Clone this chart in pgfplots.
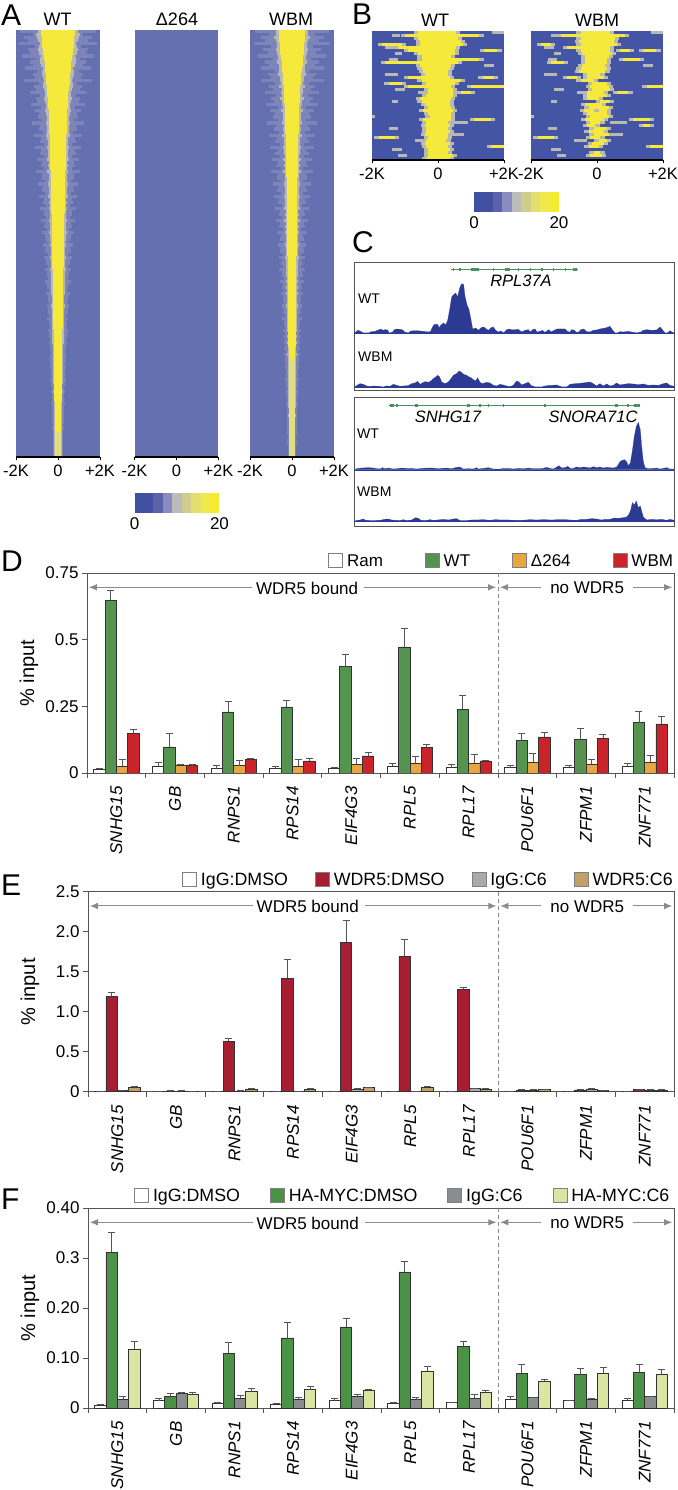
\documentclass[border=0pt]{standalone}
\usepackage{fontspec}
\setmainfont{Liberation Sans}
\usepackage{pgfplots}
\usepackage{pgfplotstable}
\pgfplotsset{compat=1.18}
\usetikzlibrary{arrows.meta}

\definecolor{bgA}{HTML}{6470B0}
\definecolor{bgB}{HTML}{4555A5}
\definecolor{yel}{HTML}{F5EA3C}
\definecolor{halo}{HTML}{B9B9B2}
\definecolor{glow}{HTML}{7C84BA}
\definecolor{pale}{HTML}{E2DD80}
\definecolor{navy}{HTML}{2B3A92}
\definecolor{gene}{HTML}{4A9060}
\definecolor{cgreen}{HTML}{559350}
\definecolor{corange}{HTML}{E8A63F}
\definecolor{cred}{HTML}{CC2229}
\definecolor{cdred}{HTML}{A71E32}
\definecolor{cgrey}{HTML}{A8AAAD}
\definecolor{ctan}{HTML}{C2A168}
\definecolor{fgreen}{HTML}{4B9148}
\definecolor{fgrey}{HTML}{8A8C8E}
\definecolor{flime}{HTML}{DBE5A3}
\definecolor{edge}{HTML}{333333}
\definecolor{axc}{HTML}{555555}
\definecolor{arrc}{HTML}{8A8A8A}

\newcommand\fs[1]{\fontsize{#1}{#1}\selectfont}
\newcommand\lbl[4][]{\node[inner sep=0pt,anchor=base,#1] at (#2pt,{1490pt-#3pt}) {#4};}

% panel A: half widths of the three colour layers, row by row from the top
\pgfplotstableread{
y core halo glow
0 .82 1.05 1.8
1 .78 1.25 1.6
2 .74 .95 1.85
3 .72 1.15 1.45
4 .68 .9 1.7
5 .64 1.05 1.35
6 .62 .85 1.55
7 .58 .95 1.2
8 .56 .8 1.6
9 .52 .9 1.15
10 .50 .75 1.35
11 .48 .85 1.05
12 .46 .7 1.3
13 .45 .8 1.1
14 .43 .65 .95
15 .42 .75 1.25
16 .41 .62 .9
17 .40 .72 1.15
18 .39 .6 .85
19 .38 .7 1.1
20 .37 .58 .85
21 .36 .68 1.0
22 .36 .56 .8
23 .35 .65 1.05
24 .34 .55 .78
25 .34 .62 .95
26 .33 .52 .75
27 .32 .6 .9
28 .32 .5 .7
29 .31 .58 .85
30 .30 .48 .68
31 .30 .55 .8
32 .29 .46 .65
33 .29 .52 .75
34 .28 .45 .62
35 .28 .5 .72
36 .27 .43 .6
37 .27 .48 .68
38 .27 .42 .56
39 .26 .46 .64
40 .26 .4 .54
41 .25 .44 .6
42 .25 .38 .5
43 .24 .42 .56
44 .24 .36 .48
45 .23 .4 .52
46 .23 .34 .46
47 .22 .38 .5
48 .22 .33 .44
49 .21 .36 .46
50 .21 .32 .42
51 .20 .34 .44
52 .20 .3 .4
53 .19 .32 .4
54 .19 .28 .36
55 .18 .3 .38
56 .18 .27 .34
57 .18 .28 .36
58 .17 .25 .32
59 .17 .26 .33
60 .17 .24 .3
61 .16 .25 .31
62 .16 .23 .28
63 .16 .24 .29
64 .15 .22 .27
65 .15 .22 .28
66 .15 .21 .25
67 .14 .21 .26
68 .14 .2 .24
69 .14 .2 .24
}\heatWT
\pgfplotstableread{
y core halo glow
0 .62 .95 1.75
1 .6 1.1 1.5
2 .58 .85 1.8
3 .56 1.0 1.4
4 .53 .8 1.6
5 .5 .95 1.3
6 .48 .72 1.5
7 .45 .85 1.15
8 .43 .7 1.5
9 .4 .8 1.1
10 .38 .65 1.3
11 .37 .75 1.0
12 .35 .6 1.25
13 .34 .7 1.05
14 .33 .56 .9
15 .32 .66 1.2
16 .31 .52 .85
17 .3 .62 1.1
18 .29 .5 .8
19 .29 .6 1.05
20 .28 .48 .8
21 .28 .58 .95
22 .27 .46 .75
23 .27 .56 1.0
24 .26 .45 .72
25 .26 .54 .9
26 .25 .44 .7
27 .25 .52 .85
28 .25 .42 .66
29 .24 .5 .8
30 .24 .4 .62
31 .24 .48 .75
32 .23 .39 .6
33 .23 .45 .7
34 .22 .38 .58
35 .22 .44 .68
36 .22 .37 .56
37 .21 .42 .64
38 .21 .36 .52
39 .21 .4 .6
40 .2 .35 .5
41 .2 .38 .56
42 .2 .33 .46
43 .19 .36 .52
44 .19 .32 .44
45 .19 .34 .48
46 .18 .3 .42
47 .18 .32 .46
48 .18 .29 .4
49 .17 .3 .42
50 .17 .28 .38
51 .17 .29 .4
52 .16 .26 .36
53 .16 .27 .36
54 .16 .25 .32
55 .15 .26 .34
56 .15 .24 .3
57 .15 .25 .32
58 .14 .22 .28
59 .14 .23 .29
60 .14 .21 .26
61 .14 .22 .27
62 .13 .2 .25
63 .13 .21 .25
64 .13 .19 .23
65 .13 .2 .24
66 .12 .18 .22
67 .12 .19 .22
68 .12 .18 .21
69 .12 .18 .21
}\heatWBM
\pgfplotstableread{
y core
66 .15
67 .14
68 .14
69 .14
}\paleWT
\pgfplotstableread{
y core
54 .16
55 .15
56 .15
57 .15
58 .14
59 .14
60 .14
61 .14
62 .13
63 .13
64 .13
65 .13
66 .12
67 .12
68 .12
69 .12
}\paleWBM

% panel B: yellow runs of each row, in kb from the centre
\pgfplotstableread{
y l r
0 -.6 .55
1 -1 1.25
2 -.6 .6
3 -.55 .7
4 -.55 .75
4 -1.7 -1.1
5 -1.2 .55
6 -.9 .5
6 1.4 1.8
7 -.6 .5
8 -.5 .4
9 -.5 .5
9 .5 1.25
10 -1.6 .6
11 -.55 .4
12 -.5 .35
13 -.45 .3
14 -.4 .3
15 -.9 .35
15 1.35 1.7
16 -.5 .7
17 -1.5 -1.1
17 -.35 .5
18 -.9 .4
18 1 2
19 -.3 .45
20 -.3 .45
20 .7 1
21 -.35 .45
22 -.55 .4
23 -.5 .35
24 -.4 .35
25 -.3 .4
26 -.45 .45
27 -.3 .4
28 -.25 .4
29 -.45 .4
29 1.1 1.6
30 -.35 .3
31 -.4 .35
32 -.35 .3
33 -.35 .35
34 -.4 .3
35 -.3 .3
35 -1.8 -1.3
36 -.35 .25
37 -.4 .35
38 -.35 .3
38 1.6 2
39 -.3 .35
40 -.3 .3
41 -.3 .45
42 -.35 .35
}\bandWT
\pgfplotstableread{
y l r
0 -.5 .4
1 -1.1 .85
2 -.5 .55
3 -.55 .5
4 -.5 .6
4 -1.7 -1.4
5 -.9 .4
6 -.5 .4
6 .7 1
6 1.4 1.8
7 -.45 .45
8 -.35 .35
9 -.35 .3
9 .8 1.3
10 -1.4 -1
10 -.35 .3
11 -.45 .25
12 -.5 .3
13 -.55 .25
14 -.3 .1
15 -.9 -.6
15 -.3 .2
16 -.5 -.1
17 -.15 .3
18 -.2 .35
18 1.5 2
19 -.15 .4
20 -.3 .2
20 .6 .95
21 -.3 .3
22 -.3 .05
23 .1 .4
24 -.35 .15
25 -.25 .35
26 -.4 -.1
26 .05 .3
27 -.3 .3
28 -.2 .35
29 -.35 .2
29 1.1 1.6
30 -.2 .1
31 -.3 -.05
31 1.4 1.6
32 -.1 .3
33 -.25 .2
34 -.1 .35
35 -.2 .1
35 -1.8 -1.3
36 .05 .3
37 -.15 .2
38 -.25 .05
38 1.6 2
40 -.1 .1
41 -.2 .15
}\bandWBM
\pgfplotstableread{
y l r
0 1.65 2
1 -1.4 -1.15
5 -1.6 -1.3
7 -1.3 -1.1
9 -1.5 -1.2
11 1.4 1.7
14 -1.6 -1.2
19 -1.3 -1
20 -.6 -.2
23 -1.4 -1.2
28 -2 -1.9
30 .4 .9
32 -1.5 -1.2
34 .3 .8
36 -.7 -.3
39 -1.4 -1.1
41 -1.2 -.95
}\bandExtra

% panels D to F: value and top of the error bar of each series
\pgfplotstableread{
x v1 t1 v2 t2 v3 t3 v4 t4
0.5 .012 .018 .6475 .684 .026 .05 .149 .165
1.5 .026 .039 .0975 .15 .0275 .031 .03 .031
2.5 .0175 .029 .229 .27 .0275 .0475 .05 .056
3.5 .019 .025 .2475 .2725 .026 .05 .045 .056
4.5 .0175 .021 .399 .444 .0325 .055 .064 .079
5.5 .026 .036 .4725 .541 .036 .064 .095 .109
6.5 .02 .0325 .239 .29 .0375 .069 .045 .049
7.5 .02 .029 .121 .15 .041 .074 .135 .154
8.5 .0225 .03 .125 .1675 .034 .051 .13 .146
9.5 .025 .035 .189 .23 .041 .066 .184 .2125
}\dataD
\pgfplotstableread{
x v1 t1 v2 t2 v3 t3 v4 t4
0.5 .005 .008 1.1875 1.246 .012 .015 .054 .0625
1.5 .003 .005 .008 .012 .008 .012 .003 .005
2.5 .004 .007 .633 .67 .01 .013 .033 .042
3.5 .004 .007 1.417 1.65 .002 .004 .03 .037
4.5 .004 .007 1.87 2.14 .03 .036 .054 .058
5.5 .004 .006 1.696 1.904 .004 .006 .058 .066
6.5 .004 .006 1.28 1.304 .0375 .042 .033 .04
7.5 .005 .008 .02 .025 .02 .025 .025 .03
8.5 .005 .008 .022 .027 .03 .035 .017 .02
9.5 .006 .009 .025 .03 .022 .026 .02 .024
}\dataE
\pgfplotstableread{
x v1 t1 v2 t2 v3 t3 v4 t4
0.5 .006 .0065 .311 .351 .018 .0226 .117 .133
1.5 .0146 .0186 .024 .0286 .029 .032 .028 .031
2.5 .0093 .0106 .109 .131 .02 .0246 .033 .04
3.5 .008 .0093 .14 .171 .018 .0206 .0366 .044
4.5 .0146 .0186 .162 .179 .024 .0266 .0346 .038
5.5 .0093 .0103 .272 .2936 .0166 .0206 .074 .0826
6.5 .0113 .0116 .123 .134 .0193 .0266 .032 .0346
7.5 .018 .0233 .069 .087 .0213 .0218 .054 .058
8.5 .0146 .0153 .0666 .079 .018 .0193 .069 .081
9.5 .016 .02 .071 .087 .0226 .0233 .067 .078
}\dataF

\pgfplotsset{
  heat/.style={scale only axis,anchor=south west,xmin=-2,xmax=2,
    axis x line=bottom,axis y line=none,axis on top,
    axis line style={black,line width=1.2pt,-},
    xtick={-2,0,2},
    tick style={black,line width=.8pt},major tick length=3.5pt,tick align=outside,
    tick label style={font=\fs{16.5}},
    xticklabel style={yshift=-1pt}},
  heatA/.style={heat,width=84pt,height=427pt,ymin=-69.5,ymax=.5,
    xticklabels={-2K\hspace{4pt},0,+2K\hspace{4pt}}},
  heatB/.style={heat,width=132pt,height=129pt,ymin=-42.5,ymax=.5,
    xticklabels={-2K,0,+2K\hspace{9pt}}},
  cbar/.style={scale only axis,anchor=south west,width=85pt,height=19.5pt,xmin=0,xmax=9,ymin=0,ymax=1,
    ytick=\empty,xtick={0,9},xticklabels={0,20},axis line style={draw=none},major tick length=0pt,
    tick label style={font=\fs{17}},xticklabel style={yshift=-1pt}},
  layer/.style n args={2}{forget plot,draw=none,no marks,
    error bars/.cd,x dir=both,x explicit,error mark=none,
    error bar style={draw=#1,line width=#2}},
  track/.style={x=0.3333pt,y=0.3333pt,xmin=27,xmax=988,ymin=0,anchor=south west,hide axis,clip=false},
  sig/.style={fill=navy,draw=navy,line width=.2pt,forget plot},
  chart/.style={scale only axis,anchor=south west,height=200pt,
    xmin=0,xmax=10,ymin=0,ybar=0pt,bar width=0.193,
    axis line style={axc,line width=.9pt},
    xtick={0.5,1.5,2.5,3.5,4.5,5.5,6.5,7.5,8.5,9.5},
    xticklabels={SNHG15,GB,RNPS1,RPS14,EIF4G3,RPL5,RPL17,POU6F1,ZFPM1,ZNF771},
    minor xtick={0,1,2,3,4,5,6,7,8,9,10},
    x tick style={draw=none},minor x tick style={draw=axc,line width=.8pt},
    y tick style={draw=axc,line width=.8pt},
    major y tick style={draw=axc,line width=.8pt},
    minor tick length=5pt,major tick length=5pt,tick align=outside,
    xtick pos=bottom,ytick pos=left,
    tick label style={font=\fs{17}},
    xticklabel style={yshift=-5pt,rotate=90,anchor=east,font=\fs{17}\itshape},
    every axis y label/.style={at={(axis description cs:-0.099,0.5)},rotate=90,anchor=center,font=\fs{20}},
    ylabel={\% input},
    legend columns=-1,
    legend style={draw=none,fill=none,inner sep=0pt,anchor=west,yshift=12.5pt,
      nodes={inner sep=0pt,font=\fs{17},text depth=0pt},
      /tikz/every even column/.append style={column sep=42pt},
      /tikz/every odd column/.append style={column sep=4pt}},
    legend cell align=left,
    legend image code/.code={\draw[##1,draw=gray,line width=.8pt] (0pt,-7pt) rectangle (14pt,7pt);}},
  ser/.style n args={2}{fill=#1,draw=edge,line width=.7pt,
    error bars/.cd,y dir=plus,y explicit,
    error bar style={draw=axc,line width=.8pt},
    error mark options={rotate=90,mark size=3.5pt,draw=axc,line width=.8pt}}
}
% each row of A is split into two thin streaks
\newcommand\heatlayers[2]{%
  \addplot[layer={glow}{3.3pt}] table[x expr=0,y expr=-\thisrow{y}+0.25,x error=glow]{#1};
  \addplot[layer={glow}{3.3pt}] table[x expr=0,y expr=-\thisrow{y}-0.25,x error expr=\thisrow{halo}*1.15]{#1};
  \addplot[layer={halo}{3.3pt}] table[x expr=0,y expr=-\thisrow{y}+0.25,x error expr=(\thisrow{core}+\thisrow{halo})/2]{#1};
  \addplot[layer={halo}{3.3pt}] table[x expr=0,y expr=-\thisrow{y}-0.25,x error expr=\thisrow{core}*1.25]{#1};
  \addplot[layer={yel}{6.4pt}] table[x expr=0,y expr=-\thisrow{y},x error=core]{#1};
  \addplot[layer={pale}{6.4pt}] table[x expr=0,y expr=-\thisrow{y},x error=core]{#2};
}
\newcommand\bands[1]{%
  \addplot[layer={halo}{3.1pt}] table[x expr=(\thisrow{l}+\thisrow{r})/2,y expr=-\thisrow{y},x error expr=(\thisrow{r}-\thisrow{l})/2]{\bandExtra};
  \addplot[layer={halo}{3.1pt}] table[x expr=(\thisrow{l}+\thisrow{r})/2,y expr=-\thisrow{y},x error expr=(\thisrow{r}-\thisrow{l})/2+0.13]{#1};
  \addplot[layer={yel}{3.1pt}] table[x expr=(\thisrow{l}+\thisrow{r})/2,y expr=-\thisrow{y},x error expr=(\thisrow{r}-\thisrow{l})/2]{#1};
}
\newcommand\cbands{%
  \addplot[ybar,bar width=1,bar shift=0pt,fill=c1,draw=none] coordinates {(0.5,1)};
  \addplot[ybar,bar width=1,bar shift=0pt,fill=c2,draw=none] coordinates {(1.5,1)};
  \addplot[ybar,bar width=1,bar shift=0pt,fill=c3,draw=none] coordinates {(2.5,1)};
  \addplot[ybar,bar width=1,bar shift=0pt,fill=c4,draw=none] coordinates {(3.5,1)};
  \addplot[ybar,bar width=1,bar shift=0pt,fill=c5,draw=none] coordinates {(4.5,1)};
  \addplot[ybar,bar width=1,bar shift=0pt,fill=c6,draw=none] coordinates {(5.5,1)};
  \addplot[ybar,bar width=1,bar shift=0pt,fill=c7,draw=none] coordinates {(6.5,1)};
  \addplot[ybar,bar width=1,bar shift=0pt,fill=c8,draw=none] coordinates {(7.5,1)};
  \addplot[ybar,bar width=1,bar shift=0pt,fill=c9,draw=none] coordinates {(8.5,1)};
}
\definecolor{c1}{HTML}{3F50A3}
\definecolor{c2}{HTML}{434FA0}
\definecolor{c3}{HTML}{5A62A9}
\definecolor{c4}{HTML}{8B8AC2}
\definecolor{c5}{HTML}{BCBCBC}
\definecolor{c6}{HTML}{CFCD8A}
\definecolor{c7}{HTML}{E3DE6E}
\definecolor{c8}{HTML}{F0E94E}
\definecolor{c9}{HTML}{F5EA30}
\newcommand\notes{%
  \draw[arrc,line width=1pt,-{Latex[length=8pt,width=6.5pt]}] (rel axis cs:0.281,0.9285) -- (rel axis cs:0.003,0.9285);
  \draw[arrc,line width=1pt,-{Latex[length=8pt,width=6.5pt]}] (rel axis cs:0.472,0.9285) -- (rel axis cs:0.697,0.9285);
  \draw[arrc,line width=1pt,-{Latex[length=8pt,width=6.5pt]}] (rel axis cs:0.773,0.9285) -- (rel axis cs:0.7035,0.9285);
  \draw[arrc,line width=1pt,-{Latex[length=8pt,width=6.5pt]}] (rel axis cs:0.93,0.9285) -- (rel axis cs:0.997,0.9285);
  \draw[arrc,line width=.8pt,dash pattern=on 4pt off 3pt] (rel axis cs:0.7,0) -- (rel axis cs:0.7,1);
  \node[font=\fs{17},inner sep=0pt] at (rel axis cs:0.375,0.925) {WDR5 bound};
  \node[font=\fs{17},inner sep=0pt] at (rel axis cs:0.852,0.925) {no WDR5};
}
\newcommand\series[3]{%
  \addplot[ser={#2}{}] table[x=x,y=v#3,y error expr=\thisrow{t#3}-\thisrow{v#3}]{#1};
}

\begin{document}
\begin{tikzpicture}
\useasboundingbox (0,0) rectangle (677pt,1490pt);

% ---- A
\begin{axis}[heatA,at={(16pt,1033pt)},axis background/.style={fill=bgA}]
\heatlayers{\heatWT}{\paleWT}
\end{axis}
\begin{axis}[heatA,at={(134.5pt,1033pt)},axis background/.style={fill=bgA}]
\addplot[draw=none,no marks,forget plot] coordinates {(0,-30)};
\end{axis}
\begin{axis}[heatA,at={(250pt,1033pt)},axis background/.style={fill=bgA}]
\heatlayers{\heatWBM}{\paleWBM}
\end{axis}
\begin{axis}[cbar,at={(134.5pt,977pt)}]
\cbands
\end{axis}

% ---- B
\begin{axis}[heatB,at={(372pt,1330pt)},axis background/.style={fill=bgB}]
\bands{\bandWT}
\end{axis}
\begin{axis}[heatB,at={(531pt,1330pt)},axis background/.style={fill=bgB}]
\bands{\bandWBM}
\end{axis}
\begin{axis}[cbar,at={(474pt,1278pt)}]
\cbands
\end{axis}

% ---- C
\draw[axc,line width=1pt] (354pt,1099pt) rectangle (674pt,1227pt);
\draw[axc,line width=1pt] (354pt,963pt) rectangle (674pt,1092pt);
\begin{axis}[track,at={(354pt,1157pt)},ymax=210]
\addplot[sig] coordinates {(27,0)(988,0)};
\addplot[sig] coordinates {(28,0)(32,3)(38,8)(45,6)(50,3)(55,0)(72,0)(78,4)(90,5)(100,9)(108,12)(113,8)(120,10)(128,9)(132,0)(142,2)(148,10)(156,12)(165,11)(172,10)(180,2)(190,0)(196,5)(205,7)(215,7)(225,6)(235,5)(250,3)(257,5)(262,17)(268,26)(278,26)(282,16)(288,24)(296,30)(302,24)(308,38)(314,70)(320,108)(326,115)(332,120)(338,108)(344,135)(350,148)(356,145)(360,110)(366,85)(372,70)(378,40)(383,12)(392,15)(400,8)(408,16)(416,18)(424,12)(430,8)(438,16)(445,18)(452,8)(460,3)(468,6)(476,0)(484,9)(492,12)(500,10)(510,10)(520,11)(530,3)(540,8)(550,10)(556,3)(563,10)(570,12)(576,3)(585,5)(592,8)(600,2)(606,6)(612,10)(618,3)(628,8)(636,12)(650,12)(660,12)(668,4)(675,3)(680,10)(688,8)(695,2)(700,2)(708,10)(716,12)(725,4)(735,3)(745,8)(755,9)(765,12)(775,14)(785,16)(795,20)(802,10)(810,0)(818,0)(825,4)(835,3)(850,5)(860,3)(875,0)(888,3)(895,8)(905,10)(920,8)(935,9)(945,18)(952,10)(960,0)(968,0)(975,7)(982,2)(988,0)} \closedcycle;
% gene model
\addplot[gene,line width=.7pt,no marks,forget plot] coordinates {(317,190)(698,190)};
\addplot[layer={gene}{3.5pt}] table[x=c,y expr=190,x error=w] {
c w
325 1.5
345 1.5
380 1.5
393 9
445 1
488 8
520 1
555 1
590 1
625 1
660 1
689 6
};
\end{axis}
\begin{axis}[track,at={(354pt,1103pt)},ymax=156]
\addplot[sig] coordinates {(27,0)(988,0)};
\addplot[sig] coordinates {(30,0)(36,5)(45,10)(55,8)(65,3)(75,1)(85,3)(100,2)(115,0)(125,3)(135,2)(145,8)(155,5)(165,2)(175,3)(190,4)(200,10)(210,12)(218,17)(225,8)(232,12)(240,16)(250,14)(258,18)(265,25)(272,30)(278,35)(284,30)(290,15)(300,10)(310,15)(318,25)(325,35)(335,40)(342,48)(348,45)(356,38)(365,35)(372,30)(378,28)(385,22)(392,18)(398,28)(405,14)(412,10)(425,14)(435,12)(445,5)(455,3)(465,8)(475,6)(485,3)(495,1)(505,5)(515,18)(522,15)(530,6)(540,10)(550,14)(558,5)(570,0)(590,0)(605,4)(620,5)(635,6)(650,0)(665,0)(675,8)(690,10)(705,11)(720,13)(735,15)(745,10)(755,3)(765,10)(775,3)(785,9)(795,3)(805,5)(815,12)(825,6)(835,8)(850,10)(865,9)(880,7)(895,9)(910,5)(925,6)(940,5)(955,10)(965,12)(975,5)(988,2)} \closedcycle;
\end{axis}
\begin{axis}[track,at={(354pt,1020.3pt)},ymax=216]
\addplot[sig] coordinates {(27,0)(988,0)};
\addplot[sig] coordinates {(32,3)(50,5)(70,6)(85,5)(95,3)(105,2)(112,6)(120,3)(130,5)(145,2)(155,3)(170,5)(185,4)(200,4)(215,2)(230,4)(250,5)(265,5)(280,3)(290,4)(305,5)(320,3)(335,7)(345,8)(355,2)(370,3)(385,2)(395,6)(400,2)(415,4)(430,6)(445,2)(460,1)(475,4)(490,4)(505,2)(520,4)(535,3)(550,5)(565,3)(580,3)(595,4)(605,7)(615,4)(625,2)(632,6)(642,12)(650,5)(660,6)(668,10)(676,4)(685,4)(695,8)(705,6)(715,8)(725,7)(735,5)(745,9)(755,6)(765,8)(775,5)(785,7)(795,6)(805,5)(815,8)(820,15)(825,24)(832,28)(838,30)(845,24)(850,12)(856,20)(862,55)(868,100)(874,130)(880,142)(886,120)(890,70)(895,25)(900,6)(910,3)(925,4)(935,5)(945,2)(955,4)(965,6)(975,2)(988,2)} \closedcycle;
\addplot[gene,line width=.7pt,no marks,forget plot] coordinates {(133,193)(885,193)};
\addplot[layer={gene}{3.5pt}] table[x=c,y expr=193,x error=w] {
c w
141 7
156 3
215 5
370 5
405 1.5
430 1.5
475 2
600 2
815 5
848 2
876 8
};
\end{axis}
\begin{axis}[track,at={(354pt,969pt)},ymax=140]
\addplot[sig] coordinates {(27,0)(988,0)};
\addplot[sig] coordinates {(32,1)(45,3)(55,6)(62,2)(75,1)(90,1)(105,2)(118,5)(130,6)(140,3)(150,2)(165,1)(175,4)(185,1)(200,3)(212,10)(220,8)(228,2)(240,1)(255,4)(265,2)(278,3)(295,5)(310,3)(325,6)(335,7)(345,1)(365,1)(380,3)(395,3)(415,4)(435,2)(450,4)(470,3)(490,3)(510,2)(530,2)(555,4)(575,3)(595,4)(620,3)(640,4)(660,4)(675,3)(695,2)(710,5)(725,5)(740,7)(755,6)(770,3)(780,5)(795,5)(808,9)(820,8)(835,10)(845,12)(852,20)(858,35)(862,55)(868,48)(874,60)(880,40)(886,45)(890,30)(895,12)(905,3)(920,5)(935,4)(950,5)(965,2)(975,5)(988,2)} \closedcycle;
\end{axis}

% ---- D
\begin{axis}[chart,at={(87pt,717pt)},width=587pt,ymax=0.75,
  ytick={0,0.25,0.5,0.75},yticklabels={0,0.25,0.5,0.75},
  legend style={at={(axis description cs:0.4106,1)}}]
\series{\dataD}{white}{1}
\series{\dataD}{cgreen}{2}
\series{\dataD}{corange}{3}
\series{\dataD}{cred}{4}
\legend{Ram,WT,Δ264,WBM}
\notes
\end{axis}

% ---- E
\begin{axis}[chart,at={(88pt,398.3pt)},width=586pt,ymax=2.5,
  ytick={0,0.5,1,1.5,2,2.5},yticklabels={0,0.5,1.0,1.5,2.0,2.5},
  legend style={at={(axis description cs:0.1604,1)},nodes={font=\fs{17.8}},/tikz/every even column/.append style={column sep=27pt}}]
\series{\dataE}{white}{1}
\series{\dataE}{cdred}{2}
\series{\dataE}{cgrey}{3}
\series{\dataE}{ctan}{4}
\legend{IgG:DMSO,WDR5:DMSO,IgG:C6,WDR5:C6}
\notes
\end{axis}

% ---- F
\begin{axis}[chart,at={(88pt,82pt)},width=586pt,ymax=0.4,
  ytick={0,0.1,0.2,0.3,0.4},yticklabels={0,0.10,0.20,0.3,0.40},
  legend style={at={(axis description cs:0.0785,1)},nodes={font=\fs{17.8}},/tikz/every even column/.append style={column sep=30pt}}]
\series{\dataF}{white}{1}
\series{\dataF}{fgreen}{2}
\series{\dataF}{fgrey}{3}
\series{\dataF}{flime}{4}
\legend{IgG:DMSO,HA-MYC:DMSO,IgG:C6,HA-MYC:C6}
\notes
\end{axis}

% ---- texts
\lbl[anchor=base west,font=\fs{30}]{1}{26}{A}
\lbl[anchor=base west,font=\fs{30}]{352}{25}{B}
\lbl[anchor=base west,font=\fs{30}]{352}{253}{C}
\lbl[anchor=base west,font=\fs{30}]{1}{572}{D}
\lbl[anchor=base west,font=\fs{30}]{1}{896}{E}
\lbl[anchor=base west,font=\fs{30}]{1}{1210}{F}
\lbl[font=\fs{18}]{57.5}{26}{WT}
\lbl[font=\fs{18}]{177}{26}{Δ264}
\lbl[font=\fs{18}]{291}{26}{WBM}
\lbl[font=\fs{18}]{435}{26.5}{WT}
\lbl[font=\fs{18}]{597}{26.5}{WBM}
\lbl[anchor=base west,font=\fs{14}]{358}{304}{WT}
\lbl[anchor=base west,font=\fs{14}]{358}{361.5}{WBM}
\lbl[anchor=base west,font=\fs{14}]{357}{439}{WT}
\lbl[anchor=base west,font=\fs{14}]{357}{497}{WBM}
\lbl[font=\fs{16.5}\itshape]{521}{287}{RPL37A}
\lbl[font=\fs{16.5}\itshape]{448}{422.5}{SNHG17}
\lbl[font=\fs{16.5}\itshape]{593}{422.5}{SNORA71C}
\end{tikzpicture}
\end{document}
